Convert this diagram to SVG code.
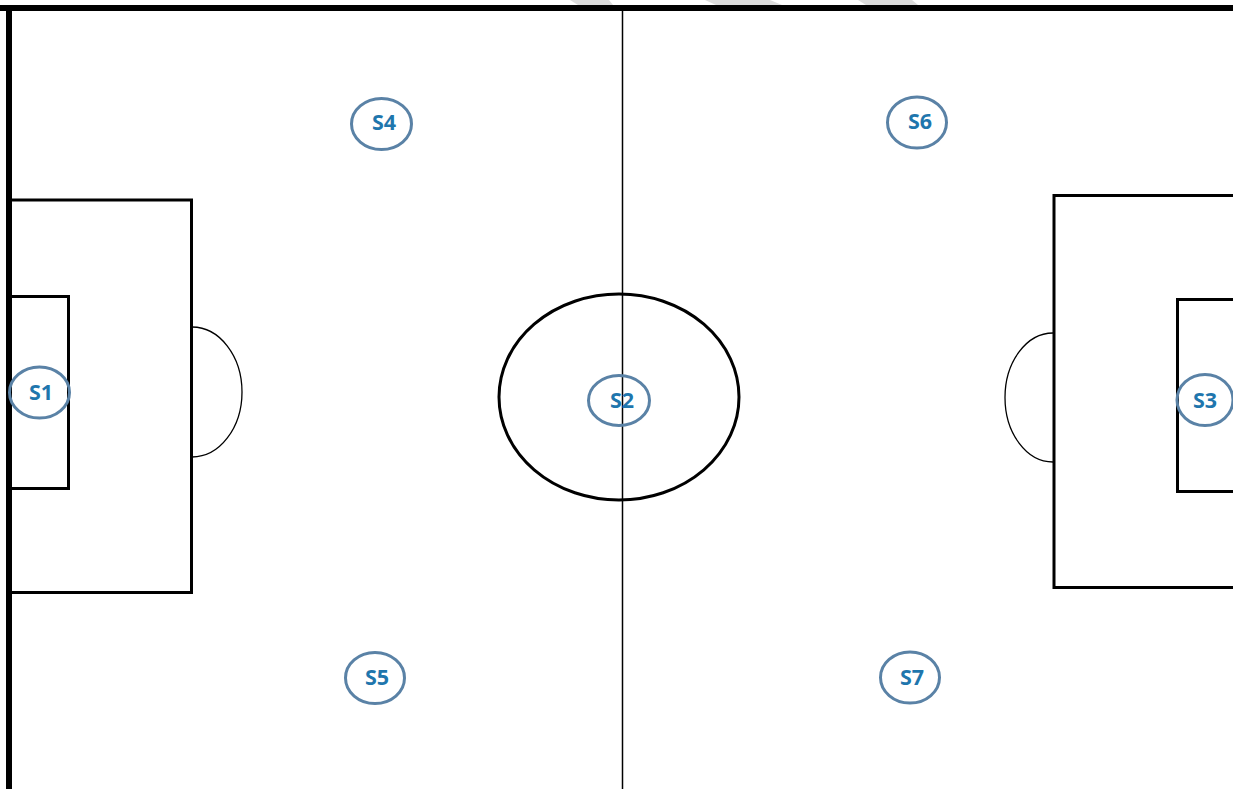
<svg xmlns="http://www.w3.org/2000/svg" width="1233" height="789" viewBox="0 0 1233 789">
<style>
.l{fill:none;stroke:#000}
.p{stroke-width:3}
.n ellipse{fill:none;stroke:#5a82a6;stroke-width:3}
.n text{font-family:"Open Sans","Noto Sans","Liberation Sans",sans-serif;font-size:21.500px;font-weight:700;fill:#1f76ad;text-anchor:middle}
</style>
<rect width="1233" height="789" fill="#fff"/>
<g fill="#dcdcdc">
<polygon points="570,0 609,0 613,5 578,5"/>
<polygon points="705,0 770,0 782,5 716,5"/>
<polygon points="858,0 912,0 918,5 866,5"/>
</g>
<g id="pitch">
<rect x="0" y="5" width="1233" height="6" fill="#000"/>
<rect x="6" y="5" width="6" height="784" fill="#000"/>
<line class="l" x1="622.500" y1="11" x2="622.500" y2="789" stroke-width="1.500" stroke="#333"/>
<ellipse class="l" cx="619" cy="397" rx="120" ry="103" stroke-width="3"/>
<path class="l p" d="M12 200H191.500V592.500H12"/>
<path class="l p" d="M12 296.500H68.500V488.500H12"/>
<path class="l" stroke-width="1.300" stroke="#222" d="M192 327A50 65 0 0 1 192 457"/>
<path class="l p" d="M1233 195.500H1054V587.500H1233"/>
<path class="l p" d="M1233 299.500H1177.500V491.500H1233"/>
<path class="l" stroke-width="1.300" stroke="#222" d="M1053 333A48 64.500 0 0 0 1053 462"/>
</g>
<g id="S1" class="n"><ellipse cx="39.500" cy="392.500" rx="30" ry="25.500"/><text x="41" y="400">S1</text></g>
<g id="S2" class="n"><ellipse cx="619" cy="400.500" rx="30.500" ry="25"/><text x="622" y="407.500">S2</text></g>
<g id="S3" class="n"><ellipse cx="1205" cy="400" rx="28" ry="25.500"/><text x="1205" y="407.500">S3</text></g>
<g id="S4" class="n"><ellipse cx="381.500" cy="124" rx="30" ry="25.500"/><text x="384" y="129.500">S4</text></g>
<g id="S5" class="n"><ellipse cx="375" cy="678" rx="29.500" ry="25.500"/><text x="377" y="684.500">S5</text></g>
<g id="S6" class="n"><ellipse cx="917" cy="122.500" rx="29.500" ry="25.500"/><text x="920" y="128.500">S6</text></g>
<g id="S7" class="n"><ellipse cx="910" cy="677.500" rx="29.500" ry="25.500"/><text x="912" y="684.500">S7</text></g>
</svg>
